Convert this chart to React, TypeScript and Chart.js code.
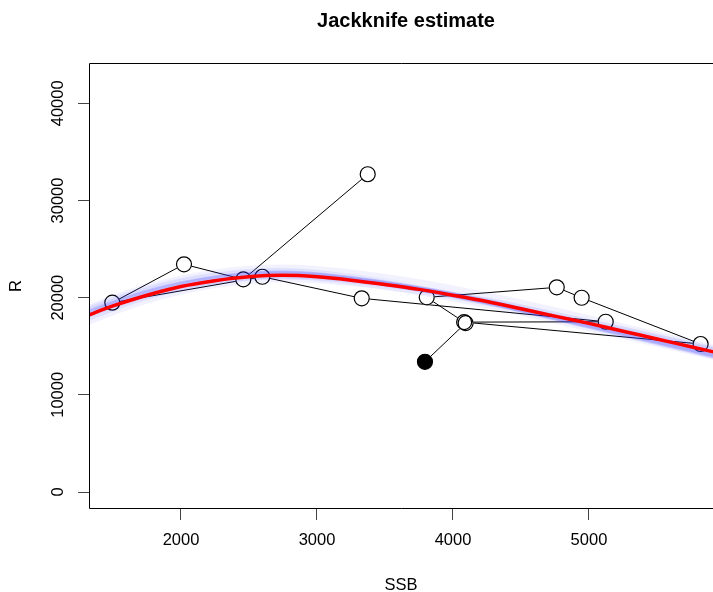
import React, { useEffect, useRef } from "react";
import { Chart, registerables } from "chart.js";

Chart.register(...registerables);

// Observed stock-recruit path (in time order)
const pathSSB = [3373, 2458, 2022, 1495, 2598, 3329, 5123, 4082, 5821, 4946, 4763, 3807, 4093, 3794];
const pathR = [32700, 21880, 23430, 19480, 22150, 19930, 17520, 17480, 15230, 19990, 21060, 20030, 17380, 13400];

// Full-data fitted curve
const fitSSB = [1300, 1500, 1750, 2000, 2250, 2500, 2750, 3000, 3250, 3500, 3750, 4000, 4250, 4500, 4750, 5000, 5250, 5500, 5750, 6000];
const fitR = [18100, 19150, 20250, 21150, 21750, 22150, 22300, 22150, 21800, 21350, 20850, 20250, 19600, 18850, 18100, 17350, 16550, 15750, 14950, 14150];

// Jackknife curves (leave-one-out fits)
const jackSSB = [1250, 1750, 2250, 2750, 3250, 3750, 4250, 4750, 5250, 5750, 6250];
const jack1 = [18100, 20550, 22000, 22500, 21950, 20900, 19550, 17950, 16300, 14650, 13000];
const jack2 = [18150, 20600, 22050, 22550, 22000, 20950, 19600, 17950, 16300, 14600, 12950];
const jack3 = [18050, 20500, 21950, 22450, 21900, 20850, 19500, 17900, 16250, 14600, 12950];
const jack4 = [18100, 20550, 22000, 22500, 21950, 20900, 19550, 17950, 16350, 14700, 13050];
const jack5 = [18200, 20600, 22050, 22550, 21950, 20850, 19450, 17850, 16200, 14550, 12900];
const jack6 = [18000, 20450, 21950, 22450, 21950, 20950, 19600, 18000, 16350, 14700, 13050];
const jack7 = [18700, 21150, 22650, 23150, 22650, 21650, 20300, 18750, 17100, 15450, 13800];
const jack8 = [17100, 19650, 21250, 21850, 21450, 20600, 19450, 18050, 16600, 15100, 13550];
const jack9 = [17500, 20000, 21550, 22150, 21750, 20850, 19700, 18300, 16800, 15250, 13700];
const jack10 = [18400, 20800, 22250, 22750, 22200, 21150, 19800, 18200, 16550, 14900, 13250];
const jack11 = [17800, 20200, 21650, 22150, 21550, 20500, 19150, 17600, 16000, 14400, 12800];
const jack12 = [17600, 20100, 21650, 22250, 21850, 20950, 19750, 18300, 16750, 15200, 13600];
const jack13 = [18550, 20950, 22350, 22800, 22150, 21000, 19550, 17900, 16200, 14500, 12800];
const jackCurves = [jack1, jack2, jack3, jack4, jack5, jack6, jack7, jack8, jack9, jack10, jack11, jack12, jack13];

const xTicks = [2000, 3000, 4000, 5000];
const yTicks = [0, 10000, 20000, 30000, 40000];

const titleText = "Jackknife estimate";
const xTitle = "SSB";
const yTitle = "R";

const FONT = '"Liberation Sans", Arial, sans-serif';

export default function App() {
  const ref = useRef<HTMLCanvasElement | null>(null);

  useEffect(() => {
    if (!ref.current) return;

    const framePlugin = {
      id: "frameAndTitle",
      afterDraw(chart: any) {
        const { ctx, chartArea } = chart;
        ctx.save();
        ctx.strokeStyle = "#000";
        ctx.lineWidth = 1;
        const l = Math.round(chartArea.left) + 0.5;
        const t = Math.round(chartArea.top) + 0.5;
        const b = Math.round(chartArea.bottom) - 0.5;
        ctx.beginPath();
        ctx.moveTo(chartArea.right + 20, t);
        ctx.lineTo(l, t);
        ctx.lineTo(l, b);
        ctx.lineTo(chartArea.right + 20, b);
        ctx.stroke();
        ctx.fillStyle = "#000";
        ctx.font = `bold 20px ${FONT}`;
        ctx.textAlign = "center";
        ctx.textBaseline = "middle";
        ctx.fillText(titleText, (chartArea.left + 723) / 2, 21);
        ctx.restore();
      },
    };

    const jackDatasets = jackCurves.map((arr) => ({
      data: jackSSB.map((x, i) => ({ x, y: arr[i] })),
      showLine: true,
      borderColor: "rgba(60,60,255,0.065)",
      borderWidth: 5,
      pointRadius: 0,
      tension: 0.4,
      clip: 0,
      order: 1,
    }));

    const chart = new Chart(ref.current, {
      type: "scatter",
      data: {
        datasets: [
          {
            data: fitSSB.map((x, i) => ({ x, y: fitR[i] })),
            showLine: true,
            borderColor: "#ff0000",
            borderWidth: 3.5,
            pointRadius: 0,
            tension: 0.35,
            clip: 0,
            order: 0,
          },
          ...jackDatasets,
          {
            data: pathSSB.map((x, i) => ({ x, y: pathR[i] })),
            showLine: false,
            pointRadius: 7.5,
            pointBorderWidth: 1.2,
            pointBorderColor: "#000",
            pointBackgroundColor: pathSSB.map((_, i) => (i === pathSSB.length - 1 ? "#000" : "rgba(0,0,0,0)")),
            order: 2,
          },
          {
            data: pathSSB.map((x, i) => ({ x, y: pathR[i] })),
            showLine: true,
            borderColor: "#000",
            borderWidth: 1,
            pointRadius: 8,
            pointBorderWidth: 0,
            pointBackgroundColor: "#fff",
            tension: 0,
            order: 3,
          },
        ] as any,
      },
      options: {
        animation: false,
        responsive: false,
        devicePixelRatio: 1,
        layout: { autoPadding: false, padding: { top: 63, left: 0, right: 0, bottom: 0 } },
        plugins: {
          legend: { display: false },
          tooltip: { enabled: false },
          title: { display: false },
        },
        scales: {
          x: {
            type: "linear",
            min: 1323.5,
            max: 5912,
            afterBuildTicks: (s: any) => {
              s.ticks = xTicks.map((v) => ({ value: v }));
            },
            afterFit: (s: any) => {
              s.height = 83;
              s.paddingLeft = 0;
              s.paddingRight = 0;
            },
            border: { display: false },
            grid: {
              drawOnChartArea: false,
              drawTicks: true,
              tickLength: 11,
              tickColor: "#444",
              tickWidth: 1,
            },
            ticks: {
              autoSkip: false,
              maxRotation: 0,
              minRotation: 0,
              padding: 11,
              color: "#000",
              font: { family: FONT, size: 16.5 },
              callback: (v: any) => String(v),
            },
            title: {
              display: true,
              text: xTitle,
              color: "#000",
              font: { family: FONT, size: 16.5 },
              padding: { top: 0, bottom: -3 },
            },
          },
          y: {
            type: "linear",
            min: -1749,
            max: 44147,
            afterBuildTicks: (s: any) => {
              s.ticks = yTicks.map((v) => ({ value: v }));
            },
            afterFit: (s: any) => {
              s.width = 89;
              s.paddingTop = 0;
              s.paddingBottom = 0;
            },
            border: { display: false },
            grid: {
              drawOnChartArea: false,
              drawTicks: true,
              tickLength: 11,
              tickColor: "#444",
              tickWidth: 1,
            },
            ticks: {
              autoSkip: false,
              minRotation: 90,
              maxRotation: 90,
              crossAlign: "center",
              padding: -3,
              color: "#000",
              font: { family: FONT, size: 16.5 },
              callback: (v: any) => String(v),
            },
            title: {
              display: true,
              text: yTitle,
              color: "#000",
              font: { family: FONT, size: 16.5 },
              padding: { top: 7, bottom: 0 },
            },
          },
        },
      } as any,
      plugins: [framePlugin],
    });

    return () => chart.destroy();
  }, []);

  return (
    <div style={{ position: "absolute", left: 0, top: 0, width: 713, height: 592, background: "#fff" }}>
      <canvas ref={ref} width={713} height={592} style={{ display: "block" }} />
    </div>
  );
}
